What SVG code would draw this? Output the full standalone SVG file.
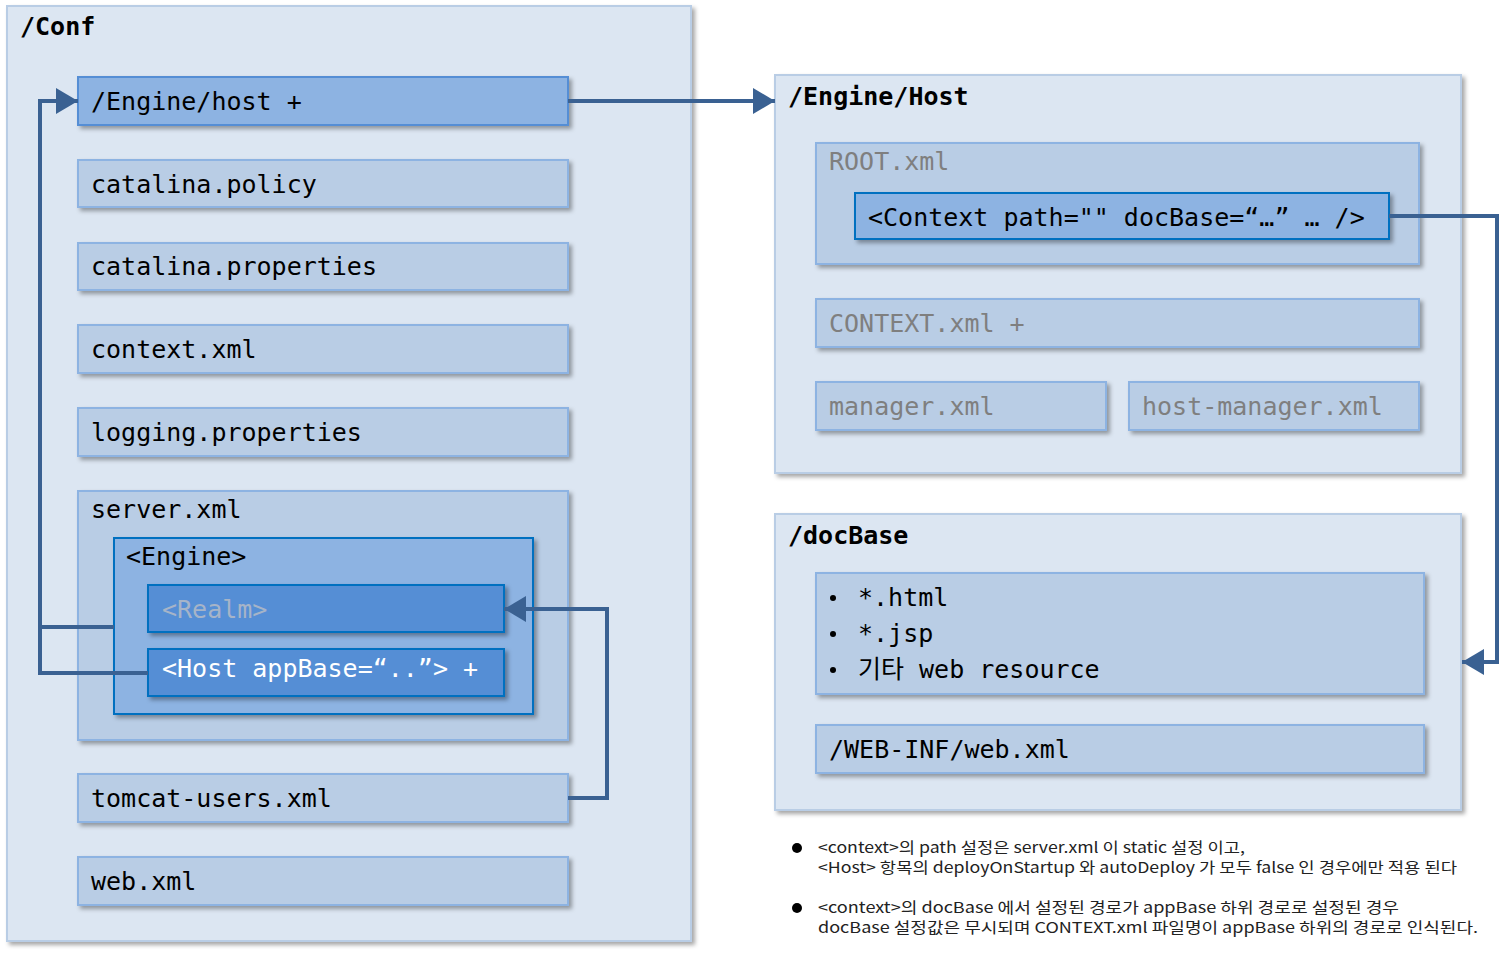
<svg xmlns="http://www.w3.org/2000/svg" width="1501" height="954" viewBox="0 0 1501 954">
<style>
.panel{fill:#dce6f2;stroke:#b9cde5;stroke-width:2}
.file{fill:#b9cde5;stroke:#8db3e2;stroke-width:2}
.hi{fill:#8db3e2;stroke:#558ed5;stroke-width:2}
.eng{fill:#8db3e2;stroke:#0070c0;stroke-width:2}
.dark{fill:#558ed5;stroke:#0070c0;stroke-width:2}
.t{font-family:"DejaVu Sans Mono","Noto Sans CJK KR",monospace;font-size:25px;fill:#000}
.title{font-family:"DejaVu Sans Mono","Noto Sans CJK KR",monospace;font-size:25px;font-weight:bold;fill:#000}
.grey{fill:#7f7f7f}
.note{font-family:"Noto Sans CJK KR","Noto Sans",sans-serif;font-size:15px;fill:#222}
.conn{fill:none;stroke:#3a6192;stroke-width:4}
</style>
<defs>
<filter id="sh" x="-5%" y="-5%" width="115%" height="130%">
<feDropShadow dx="3" dy="3" stdDeviation="2" flood-color="#000" flood-opacity="0.35"/>
</filter>
<marker id="ah" markerUnits="userSpaceOnUse" markerWidth="24" markerHeight="26" refX="22" refY="13" orient="auto">
<path d="M0,0 L22,13 L0,26 Z" fill="#3a6192"/>
</marker>
</defs>
<rect width="1501" height="954" fill="#fff"/>

<g id="conf">
<rect class="panel" x="7" y="6" width="684" height="935" filter="url(#sh)"/>
<text class="title" x="20" y="35">/Conf</text>
</g>
<g id="engine-host-dir">
<rect class="hi" x="78" y="77" width="490" height="48" filter="url(#sh)"/>
<text class="t" x="91" y="110">/Engine/host +</text>
</g>
<g id="catalina-policy">
<rect class="file" x="78" y="160" width="490" height="47" filter="url(#sh)"/>
<text class="t" x="91" y="193">catalina.policy</text>
</g>
<g id="catalina-properties">
<rect class="file" x="78" y="243" width="490" height="47" filter="url(#sh)"/>
<text class="t" x="91" y="275">catalina.properties</text>
</g>
<g id="context-xml">
<rect class="file" x="78" y="325" width="490" height="48" filter="url(#sh)"/>
<text class="t" x="91" y="358">context.xml</text>
</g>
<g id="logging-properties">
<rect class="file" x="78" y="408" width="490" height="48" filter="url(#sh)"/>
<text class="t" x="91" y="441">logging.properties</text>
</g>
<g id="server-xml">
<rect class="file" x="78" y="491" width="490" height="249" filter="url(#sh)"/>
<text class="t" x="91" y="518">server.xml</text>
</g>
<g id="engine">
<rect class="eng" x="114" y="538" width="419" height="176" filter="url(#sh)"/>
<text class="t" x="126" y="565">&lt;Engine&gt;</text>
</g>
<g id="realm">
<rect class="dark" x="148" y="585" width="356" height="47" filter="url(#sh)"/>
<text class="t" x="162" y="618" style="fill:#a6b4c8">&lt;Realm&gt;</text>
</g>
<g id="host">
<rect class="dark" x="148" y="649" width="356" height="47" filter="url(#sh)"/>
<text class="t" x="162" y="677" style="fill:#fff">&lt;Host appBase=“..”&gt; +</text>
</g>
<g id="tomcat-users">
<rect class="file" x="78" y="774" width="490" height="48" filter="url(#sh)"/>
<text class="t" x="91" y="807">tomcat-users.xml</text>
</g>
<g id="web-xml">
<rect class="file" x="78" y="857" width="490" height="48" filter="url(#sh)"/>
<text class="t" x="91" y="890">web.xml</text>
</g>

<g id="engine-host-panel">
<rect class="panel" x="775" y="75" width="686" height="398" filter="url(#sh)"/>
<text class="title" x="788" y="105">/Engine/Host</text>
</g>
<g id="root-xml">
<rect class="file" x="816" y="143" width="603" height="121" filter="url(#sh)"/>
<text class="t grey" x="829" y="170">ROOT.xml</text>
</g>
<g id="context-tag">
<rect class="eng" x="855" y="193" width="534" height="46" filter="url(#sh)"/>
<text class="t" x="868" y="226" xml:space="preserve">&lt;Context path="" docBase=“…” … /&gt;</text>
</g>
<g id="context-xml-host">
<rect class="file" x="816" y="299" width="603" height="48" filter="url(#sh)"/>
<text class="t grey" x="829" y="332">CONTEXT.xml +</text>
</g>
<g id="manager-xml">
<rect class="file" x="816" y="382" width="290" height="48" filter="url(#sh)"/>
<text class="t grey" x="829" y="415">manager.xml</text>
</g>
<g id="host-manager-xml">
<rect class="file" x="1129" y="382" width="290" height="48" filter="url(#sh)"/>
<text class="t grey" x="1142" y="415">host-manager.xml</text>
</g>

<g id="docbase-panel">
<rect class="panel" x="775" y="514" width="686" height="296" filter="url(#sh)"/>
<text class="title" x="788" y="544">/docBase</text>
</g>
<g id="resources">
<rect class="file" x="816" y="573" width="608" height="121" filter="url(#sh)"/>
<circle cx="833" cy="598" r="3"/>
<circle cx="833" cy="634" r="3"/>
<circle cx="833" cy="670" r="3"/>
<text class="t" x="858" y="606">*.html</text>
<text class="t" x="858" y="642">*.jsp</text>
<text class="t" x="858" y="678">기타 web resource</text>
</g>
<g id="web-inf">
<rect class="file" x="816" y="725" width="608" height="48" filter="url(#sh)"/>
<text class="t" x="829" y="758">/WEB-INF/web.xml</text>
</g>

<g id="connectors">
<path class="conn" d="M148,673 H40 V101 H78" marker-end="url(#ah)"/>
<path class="conn" d="M114,627 H40"/>
<path class="conn" d="M568,798 H607 V609 H504" marker-end="url(#ah)"/>
<path class="conn" d="M568,101 H775" marker-end="url(#ah)"/>
<path class="conn" d="M1389,216 H1497 V662 H1462" marker-end="url(#ah)"/>
</g>

<g id="notes">
<circle cx="797" cy="848" r="5" fill="#000"/>
<text class="note" x="818" y="853" textLength="427" lengthAdjust="spacingAndGlyphs">&lt;context&gt;의 path 설정은 server.xml 이 static 설정 이고,</text>
<text class="note" x="818" y="873" textLength="639" lengthAdjust="spacingAndGlyphs">&lt;Host&gt; 항목의 deployOnStartup 와 autoDeploy 가 모두 false 인 경우에만 적용 된다</text>
<circle cx="797" cy="908" r="5" fill="#000"/>
<text class="note" x="818" y="913" textLength="581" lengthAdjust="spacingAndGlyphs">&lt;context&gt;의 docBase 에서 설정된 경로가 appBase 하위 경로로 설정된 경우</text>
<text class="note" x="818" y="933" textLength="660" lengthAdjust="spacingAndGlyphs">docBase 설정값은 무시되며 CONTEXT.xml 파일명이 appBase 하위의 경로로 인식된다.</text>
</g>
</svg>
